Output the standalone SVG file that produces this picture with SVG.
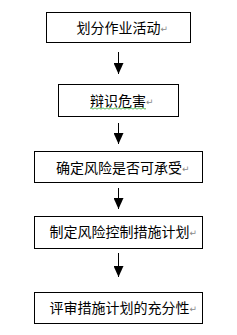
<svg xmlns="http://www.w3.org/2000/svg" width="237" height="335" viewBox="0 0 237 335">
<style>
.box{fill:#fff;stroke:#000;stroke-width:1}
.t{font-family:"Noto Sans CJK SC","Noto Sans CJK JP",sans-serif;font-size:14px;fill:#000}
.pm{font-family:"DejaVu Sans",sans-serif;font-size:9px;fill:#888}
.ln{stroke:#000;stroke-width:1;fill:none}
</style>
<defs>
<marker id="ah" viewBox="0 0 11 10" refX="11" refY="5" markerWidth="11" markerHeight="10" markerUnits="userSpaceOnUse" orient="auto">
<path d="M0,0 L11,5 L0,10 Z" fill="#000"/>
</marker>
</defs>
<rect width="237" height="335" fill="#fff"/>
<g id="n1"><rect class="box" x="46.5" y="12.5" width="144" height="30"/><text class="t" x="76.5" y="33">划分作业活动<tspan class="pm" dy="-1">↵</tspan></text></g>
<g id="n2"><rect class="box" x="58.5" y="84.5" width="120" height="32"/><text class="t" x="90" y="106">辩识危害<tspan class="pm" dy="-1">↵</tspan></text>
<path d="M90,108.5 q1,-1.2 2,0 t2,0 t2,0 t2,0 t2,0 t2,0 t2,0 t2,0 t2,0 t2,0 t2,0 t2,0 t2,0 t2,0 t2,0 t2,0 t2,0 t2,0 t2,0 t2,0 t2,0 t2,0 t2,0 t2,0 t2,0 t2,0 t2,0 t2,0" fill="none" stroke="#3a3" stroke-width="0.8"/></g>
<g id="n3"><rect class="box" x="34.5" y="151.5" width="168" height="31"/><text class="t" x="56" y="173">确定风险是否可承受<tspan class="pm" dy="-1">↵</tspan></text></g>
<g id="n4"><rect class="box" x="34.5" y="216.5" width="168" height="32"/><text class="t" x="49.5" y="237">制定风险控制措施计划<tspan class="pm" dy="-1">↵</tspan></text></g>
<g id="n5"><rect class="box" x="34.5" y="292.5" width="168" height="31"/><text class="t" x="49.5" y="313">评审措施计划的充分性<tspan class="pm" dy="-1">↵</tspan></text></g>
<g id="connectors">
<line class="ln" x1="118.5" y1="52" x2="118.5" y2="74" marker-end="url(#ah)"/>
<line class="ln" x1="118.5" y1="123" x2="118.5" y2="144" marker-end="url(#ah)"/>
<line class="ln" x1="118.5" y1="188" x2="118.5" y2="209" marker-end="url(#ah)"/>
<line class="ln" x1="118.5" y1="253" x2="118.5" y2="277" marker-end="url(#ah)"/>
</g>
</svg>
